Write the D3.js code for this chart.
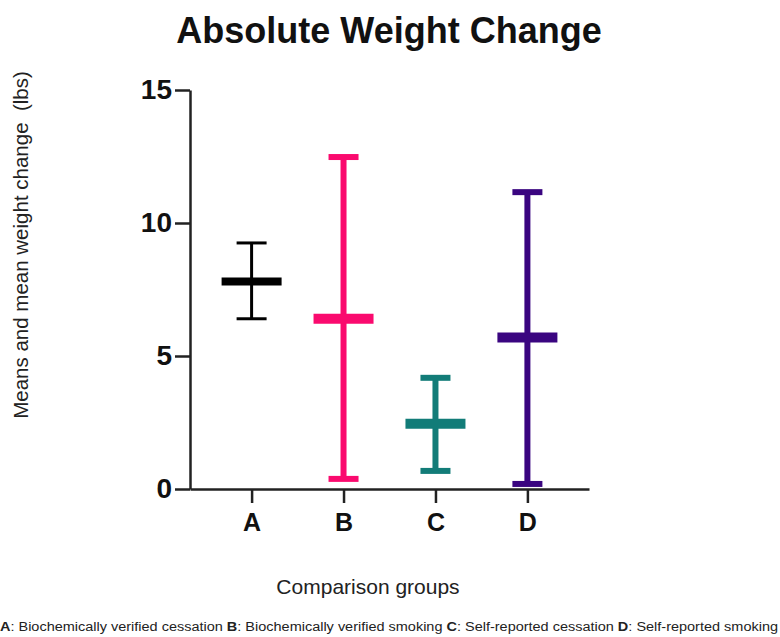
<!DOCTYPE html>
<html>
<head>
<meta charset="utf-8">
<script src="https://cdn.jsdelivr.net/npm/d3@7"></script>
<style>
  body { margin: 0; background: #fff; }
  text { font-family: "Liberation Sans", Arial, sans-serif; }
</style>
</head>
<body>
<div id="chart"></div>
<script>
// group values
var groups = ["A", "B", "C", "D"];
var means = [7.8, 6.4, 2.45, 5.7];
var lower = [6.4, 0.38, 0.68, 0.19];
var upper = [9.25, 12.48, 4.18, 11.16];
var colors = ["#000000", "#fa0a6e", "#127c78", "#3a0580"];
var yTicks = [0, 5, 10, 15];

var svgWidth = 780;
var svgHeight = 637;

var svg = d3.select("#chart")
    .append("svg")
    .attr("width", svgWidth)
    .attr("height", svgHeight);

var x = d3.scalePoint()
    .domain(groups)
    .range([190, 589])
    .padding(0.67);

var y = d3.scaleLinear()
    .domain([0, 15])
    .range([489, 90]);

// y axis
var yAxis = svg.append("g")
    .attr("transform", "translate(190,0)")
    .call(d3.axisLeft(y).tickValues(yTicks).tickSize(15).tickPadding(3).tickSizeOuter(0));
yAxis.select(".domain").attr("stroke", "#222").attr("stroke-width", 2.5);
yAxis.selectAll(".tick line").attr("stroke", "#222").attr("stroke-width", 2.5);
yAxis.selectAll(".tick text")
    .attr("font-size", "28px")
    .attr("font-weight", "700")
    .attr("fill", "#111")
    .attr("font-family", "Liberation Sans, Arial, sans-serif");

// x axis
var xAxis = svg.append("g")
    .attr("transform", "translate(0,489)")
    .call(d3.axisBottom(x).tickSize(14).tickPadding(10).tickSizeOuter(0));
xAxis.select(".domain").attr("stroke", "#222").attr("stroke-width", 2.5);
xAxis.selectAll(".tick line").attr("stroke", "#222").attr("stroke-width", 2.5);
xAxis.selectAll(".tick text")
    .attr("font-size", "25px")
    .attr("font-weight", "700")
    .attr("fill", "#111")
    .attr("font-family", "Liberation Sans, Arial, sans-serif");

// error bars
var idx = d3.range(groups.length);
var bars = svg.append("g").selectAll("g")
    .data(idx)
    .enter()
    .append("g");

bars.append("line")
    .attr("x1", i => x(groups[i]))
    .attr("x2", i => x(groups[i]))
    .attr("y1", i => y(lower[i]))
    .attr("y2", i => y(upper[i]))
    .attr("stroke", i => colors[i])
    .attr("stroke-width", i => i == 0 ? 3 : 6);

bars.selectAll(".cap")
    .data(i => [[i, lower[i]], [i, upper[i]]])
    .enter()
    .append("line")
    .attr("class", "cap")
    .attr("x1", d => x(groups[d[0]]) - 15)
    .attr("x2", d => x(groups[d[0]]) + 15)
    .attr("y1", d => y(d[1]))
    .attr("y2", d => y(d[1]))
    .attr("stroke", d => colors[d[0]])
    .attr("stroke-width", d => d[0] == 0 ? 3 : 6);

bars.append("line")
    .attr("x1", i => x(groups[i]) - 30)
    .attr("x2", i => x(groups[i]) + 30)
    .attr("y1", i => y(means[i]))
    .attr("y2", i => y(means[i]))
    .attr("stroke", i => colors[i])
    .attr("stroke-width", i => i == 0 ? 8 : 10);

// title and labels
svg.append("text")
    .attr("x", 389)
    .attr("y", 43)
    .attr("text-anchor", "middle")
    .attr("font-size", "36px")
    .attr("font-weight", "700")
    .attr("fill", "#111")
    .text("Absolute Weight Change");

svg.append("text")
    .attr("transform", "translate(28,245) rotate(-90)")
    .attr("text-anchor", "middle")
    .attr("font-size", "20.5px")
    .attr("fill", "#222")
    .style("white-space", "pre")
    .text("Means and mean weight change  (lbs)");

svg.append("text")
    .attr("x", 368)
    .attr("y", 594)
    .attr("text-anchor", "middle")
    .attr("font-size", "21px")
    .attr("fill", "#222")
    .text("Comparison groups");

var foot = svg.append("text")
    .attr("x", 0)
    .attr("y", 631)
    .attr("font-size", "12.5px")
    .attr("fill", "#222")
    .attr("textLength", 778)
    .attr("lengthAdjust", "spacingAndGlyphs");
var parts = [["A", ": Biochemically verified cessation "], ["B", ": Biochemically verified smoking "],
             ["C", ": Self-reported cessation "], ["D", ": Self-reported smoking"]];
parts.forEach(function(p) {
  foot.append("tspan").attr("font-weight", "700").text(p[0]);
  foot.append("tspan").text(p[1]);
});
</script>
</body>
</html>
